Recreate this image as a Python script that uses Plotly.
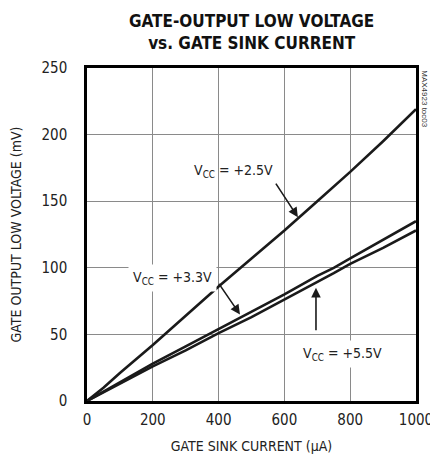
import plotly.graph_objects as go

current_ua = [0, 50, 100, 200, 300, 400, 500, 600, 700, 750, 800, 900, 1000]
vcc25_mv = [0, 10, 21, 42, 64, 86, 107, 128, 150, 161, 172, 195, 219]
vcc33_mv = [0, 7, 14, 28, 41, 54, 67, 80, 94, 100, 107, 121, 135]
vcc55_mv = [0, 6.5, 13, 26, 38, 51, 63, 76, 89, 96, 103, 115, 128]

x_ticks = [0, 200, 400, 600, 800, 1000]
y_ticks = [0, 50, 100, 150, 200, 250]

FONT = "DejaVu Sans Condensed, Liberation Sans, sans-serif"
LINE = "#1a1a1a"

fig = go.Figure()
for ys in (vcc25_mv, vcc33_mv, vcc55_mv):
    fig.add_trace(go.Scatter(x=current_ua, y=ys, mode="lines",
                             line=dict(color=LINE, width=2.6), showlegend=False))

lbl_font = dict(family=FONT, size=14, color="#222")
ann = [
    dict(x=444, y=173, text="V<sub>CC</sub> = +2.5V", showarrow=False, font=lbl_font),
    dict(x=261, y=92, text="V<sub>CC</sub> = +3.3V", showarrow=False, font=lbl_font,
         bgcolor="white", borderpad=4),
    dict(x=778, y=35, text="V<sub>CC</sub> = +5.5V", showarrow=False, font=lbl_font,
         bgcolor="white", borderpad=4),
    dict(x=641, y=138, text="", showarrow=True, ax=-23, ay=-35, arrowhead=2,
         arrowsize=1.2, arrowwidth=1.6, arrowcolor=LINE),
    dict(x=465, y=65, text="", showarrow=True, ax=-22, ay=-32, arrowhead=2,
         arrowsize=1.2, arrowwidth=1.6, arrowcolor=LINE),
    dict(x=696, y=85, text="", showarrow=True, ax=0, ay=44, arrowhead=2,
         arrowsize=1.2, arrowwidth=1.6, arrowcolor=LINE),
    dict(x=1.025, y=1.0, xref="paper", yref="paper", text="MAX4923 toc03",
         showarrow=False, textangle=90, xanchor="center", yanchor="top",
         font=dict(family="Liberation Sans", size=8, color="#333")),
    dict(x=0.5, y=1.0, xref="paper", yref="paper", yshift=59, yanchor="top",
         text="<b>GATE-OUTPUT LOW VOLTAGE<br>vs. GATE SINK CURRENT</b>",
         showarrow=False, font=dict(family=FONT, size=17, color="#111")),
]

fig.update_layout(
    width=430, height=451,
    margin=dict(l=79, r=22, t=60, b=58),
    paper_bgcolor="white", plot_bgcolor="white",
    font=dict(family=FONT, size=14, color="#222"),
    annotations=ann,
    xaxis=dict(range=[0, 1000], tickvals=x_ticks, showgrid=True, gridcolor="#8a8a8a",
               gridwidth=1, showline=True, linecolor="black", linewidth=2.5, mirror=True,
               zeroline=False, ticks="", automargin=False, ticklabelstandoff=3,
               tickfont=dict(size=15),
               title=dict(text="GATE SINK CURRENT (μA)", font=dict(size=14), standoff=14)),
    yaxis=dict(range=[0, 250], tickvals=y_ticks, showgrid=True, gridcolor="#8a8a8a",
               gridwidth=1, showline=True, linecolor="black", linewidth=2.5, mirror=True,
               zeroline=False, ticks="", ticklabelstandoff=14, automargin=False,
               tickfont=dict(size=15),
               title=dict(text="GATE OUTPUT LOW VOLTAGE (mV)", font=dict(size=14),
                          standoff=20)),
)

fig.write_html("out.html")
